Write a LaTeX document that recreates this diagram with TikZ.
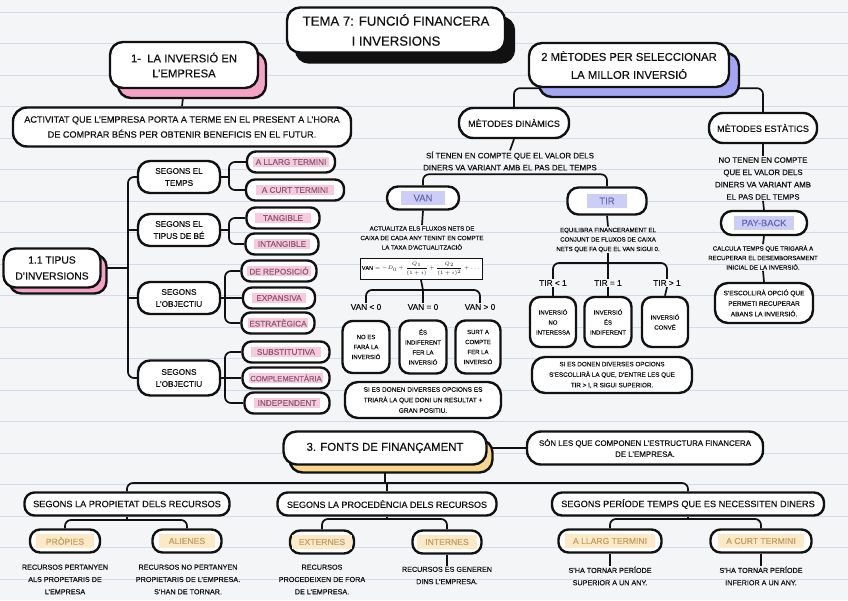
\documentclass[tikz,border=0pt]{standalone}
\usepackage{fontspec}
\setmainfont{Liberation Sans}[FakeBold=0.4]
\usetikzlibrary{shadows}
\definecolor{paper}{HTML}{F4F5F7}
\definecolor{rulec}{HTML}{D3DBEA}
\definecolor{pinkS}{HTML}{F5A3C5}
\definecolor{pinkHL}{HTML}{F8CADD}
\definecolor{pinkT}{HTML}{8E5B75}
\definecolor{blueS}{HTML}{A4A6F4}
\definecolor{blueHL}{HTML}{CDCEF7}
\definecolor{blueT}{HTML}{6569AE}
\definecolor{yelS}{HTML}{FAD68C}
\definecolor{yelHL}{HTML}{FBE9C8}
\definecolor{yelT}{HTML}{C49E66}
\definecolor{ink}{HTML}{111111}
\pgfdeclarelayer{paperlayer}
\pgfdeclarelayer{connlayer}
\pgfsetlayers{paperlayer,connlayer,main}
\newcommand\fsz[2]{\fontsize{#1}{#2}\selectfont}
% colour, vertical pad, horizontal pad, text
\newcommand\hlb[4]{{\setlength{\fboxsep}{#2}\colorbox{#1}{\hspace{#3}#4\hspace{#3}}}}
\begin{document}
\begin{tikzpicture}[x=1pt,y=-1pt,
  box/.style={draw=ink, line width=2.4pt, rounded corners=10pt, fill=white, align=center, inner sep=1pt, text=ink},
  conn/.style={draw=ink, line width=1.7pt, rounded corners=6pt},
  plain/.style={align=center, inner sep=1pt, text=ink},
  shBlack/.style={general shadow={fill=ink, draw=ink, line width=2.4pt, shadow xshift=9pt, shadow yshift=-10pt}},
  shP/.style={general shadow={fill=pinkS, draw=ink, line width=2.4pt, shadow xshift=8pt, shadow yshift=-10pt}},
  shPs/.style={general shadow={fill=pinkS, draw=ink, line width=2.4pt, shadow xshift=6pt, shadow yshift=-6pt}},
  shB/.style={general shadow={fill=blueS, draw=ink, line width=2.4pt, shadow xshift=10pt, shadow yshift=-10pt}},
  shY/.style={general shadow={fill=yelS, draw=ink, line width=2.4pt, shadow xshift=6pt, shadow yshift=-8pt}},
  segbox/.style={box, minimum width=82pt, minimum height=32pt, rounded corners=12pt, font=\fsz{8.2}{12}},
  leafP/.style={box, rounded corners=9pt, minimum height=21pt, text=pinkT, font=\fsz{8.2}{9}},
  leafB/.style={box, rounded corners=11pt, text=blueT},
  leafY/.style={box, rounded corners=10pt, minimum height=23pt, text=yelT, font=\fsz{8.6}{9}},
  small/.style={box, rounded corners=10pt, font=\fsz{6}{10}},
  note/.style={plain, font=\fsz{6.1}{9.5}},
  lab/.style={plain, font=\fsz{8.3}{9}},
  desc/.style={plain, font=\fsz{7.2}{12.3}}
]
\useasboundingbox (0,0) rectangle (848,600);
\begin{pgfonlayer}{paperlayer}
  \fill[paper] (0,0) rectangle (848,600);
  \foreach \i in {0,...,18} \draw[rulec, line width=0.8pt] (0,{12+31.5*\i}) -- (848,{12+31.5*\i});
\end{pgfonlayer}

% ---------- title ----------
\node[box, shBlack, minimum width=218pt, minimum height=45pt, rounded corners=13pt, font=\fsz{13.2}{20}] (title) at (396,30) {TEMA 7: FUNCIÓ FINANCERA\\I INVERSIONS};

% ---------- section 1 ----------
\node[box, shP, minimum width=148pt, minimum height=46pt, rounded corners=13pt, font=\fsz{11.3}{15}] (sec1) at (184,65) {1-\ \ LA INVERSIÓ EN\\L'EMPRESA};
\node[box, minimum width=338pt, minimum height=39pt, rounded corners=14pt, font=\fsz{9.1}{15}] (act) at (182,127) {ACTIVITAT QUE L'EMPRESA PORTA A TERME EN EL PRESENT A L'HORA\\DE COMPRAR BÉNS PER OBTENIR BENEFICIS EN EL FUTUR.};

\node[box, shPs, minimum width=97pt, minimum height=39pt, rounded corners=12pt, font=\fsz{10.3}{16}] (t11) at (52,268) {1.1 TIPUS\\D'INVERSIONS};
\node[segbox] (s1) at (179,177) {SEGONS EL\\TEMPS};
\node[segbox] (s2) at (179,230) {SEGONS EL\\TIPUS DE BÉ};
\node[segbox] (s3) at (179,298) {SEGONS\\L'OBJECTIU};
\node[segbox, minimum height=35pt] (s4) at (179,378) {SEGONS\\L'OBJECTIU};

\node[leafP, minimum width=88pt] (l1) at (291,162) {\hlb{pinkHL}{1.8pt}{1pt}{A LLARG TERMINI}};
\node[leafP, minimum width=98pt] (l2) at (295,190) {\hlb{pinkHL}{1.8pt}{4pt}{A CURT TERMINI}};
\node[leafP, minimum width=73pt] (l3) at (283,218) {\hlb{pinkHL}{1.8pt}{6pt}{TANGIBLE}};
\node[leafP, minimum width=73pt] (l4) at (282,244) {\hlb{pinkHL}{1.8pt}{2pt}{INTANGIBLE}};
\node[leafP, minimum width=75pt] (l5) at (279,271) {\hlb{pinkHL}{1.8pt}{1pt}{DE REPOSICIÓ}};
\node[leafP, minimum width=72pt] (l6) at (279,298) {\hlb{pinkHL}{1.8pt}{3pt}{EXPANSIVA}};
\node[leafP, minimum width=73pt] (l7) at (278,323) {\hlb{pinkHL}{1.8pt}{0pt}{ESTRATÈGICA}};
\node[leafP, minimum width=87pt] (l8) at (286,352) {\hlb{pinkHL}{1.8pt}{4pt}{SUBSTITUTIVA}};
\node[leafP, minimum width=87pt, font=\fsz{7.6}{9}] (l9) at (286,378) {\hlb{pinkHL}{1.8pt}{0pt}{COMPLEMENTÀRIA}};
\node[leafP, minimum width=85pt] (l10) at (287,403) {\hlb{pinkHL}{1.8pt}{2pt}{INDEPENDENT}};

\coordinate (tr) at (128,268);
\coordinate (f1) at (229,177);
\coordinate (f2) at (229,230);
\coordinate (f3) at (225,298);
\coordinate (f4) at (225,378);

% ---------- section 2 ----------
\node[box, shB, minimum width=200pt, minimum height=44pt, rounded corners=13pt, font=\fsz{11.3}{18}] (sec2) at (629,65) {2 MÈTODES PER SELECCIONAR\\LA MILLOR INVERSIÓ};
\node[box, minimum width=110pt, minimum height=30pt, rounded corners=14pt, font=\fsz{9.1}{10}] (din) at (514,123) {MÈTODES DINÀMICS};
\node[box, minimum width=108pt, minimum height=30pt, rounded corners=14pt, font=\fsz{9.1}{10}] (est) at (763,128) {MÈTODES ESTÀTICS};

\node[plain, font=\fsz{7.9}{12}] (sT) at (510,161) {SÍ TENEN EN COMPTE QUE EL VALOR DELS\\DINERS VA VARIANT AMB EL PAS DEL TEMPS};
\node[leafB, minimum width=72pt, minimum height=23pt, font=\fsz{9.5}{10}] (van) at (423,198) {\hlb{blueHL}{3.5pt}{9pt}{VAN}};
\node[leafB, minimum width=79pt, minimum height=27pt, font=\fsz{9.5}{10}] (tir) at (607,201) {\hlb{blueHL}{3.5pt}{9pt}{TIR}};

\node[note] (vanT) at (422,238) {ACTUALITZA ELS FLUXOS NETS DE\\CAIXA DE CADA ANY TENINT EN COMPTE\\LA TAXA D'ACTUALITZACIÓ};
\node[draw=ink, line width=0.9pt, fill=white, minimum width=122pt, minimum height=21pt, inner sep=1pt, text=ink] (form) at (421,269) {\fsz{5.4}{6}$\displaystyle \mathrm{VAN}=-D_0+\frac{Q_1}{(1+i)}+\frac{Q_2}{(1+i)^2}+\dots$};
\coordinate (vb) at (423,290);
\node[lab] (v1) at (366,307) {VAN < 0};
\node[lab] (v2) at (423,307) {VAN = 0};
\node[lab] (v3) at (480,307) {VAN > 0};
\node[small, minimum width=47pt, minimum height=52pt] (vb1) at (366,347) {NO ES\\FARÀ LA\\INVERSIÓ};
\node[small, minimum width=47pt, minimum height=53pt] (vb2) at (423,347) {ÉS\\INDIFERENT\\FER LA\\INVERSIÓ};
\node[small, minimum width=45pt, minimum height=53pt] (vb3) at (478,347) {SURT A\\COMPTE\\FER LA\\INVERSIÓ};
\node[box, minimum width=156pt, minimum height=36pt, rounded corners=13pt, font=\fsz{6.5}{10.5}] (vanS) at (423,400) {SI ES DONEN DIVERSES OPCIONS ES\\TRIARÀ LA QUE DONI UN RESULTAT +\\GRAN POSITIU.};

\node[note] (tirT) at (608,240) {EQUILIBRA FINANCERAMENT EL\\CONJUNT DE FLUXOS DE CAIXA\\NETS QUE FA QUE EL VAN SIGUI 0.};
\coordinate (tb) at (608,263);
\node[lab] (t1) at (553,283) {TIR < 1};
\node[lab] (t2) at (608,283) {TIR = 1};
\node[lab] (t3) at (667,283) {TIR > 1};
\node[small, minimum width=46pt, minimum height=50pt] (tx1) at (553,322) {INVERSIÓ\\NO\\INTERESSA};
\node[small, minimum width=47pt, minimum height=50pt] (tx2) at (608,322) {INVERSIÓ\\ÉS\\INDIFERENT};
\node[small, minimum width=46pt, minimum height=50pt] (tx3) at (665,322) {INVERSIÓ\\CONVÉ};
\node[box, minimum width=160pt, minimum height=36pt, rounded corners=13pt, font=\fsz{6.3}{10.5}] (tirS) at (612,375) {SI ES DONEN DIVERSES OPCIONS\\S'ESCOLLIRÀ LA QUE, D'ENTRE LES QUE\\TIR > I, R SIGUI SUPERIOR.};

\node[plain, font=\fsz{7.8}{12.3}] (estT) at (763,178.5) {NO TENEN EN COMPTE\\QUE EL VALOR DELS\\DINERS VA VARIANT AMB\\EL PAS DEL TEMPS};
\node[leafB, minimum width=86pt, minimum height=24pt, font=\fsz{9.3}{10}] (pay) at (764,223) {\hlb{blueHL}{3.5pt}{4pt}{PAY-BACK}};
\node[note] (payT) at (763,257.5) {CALCULA TEMPS QUE TRIGARÀ A\\RECUPERAR EL DESEMBORSAMENT\\INICIAL DE LA INVERSIÓ.};
\node[box, minimum width=98pt, minimum height=40pt, rounded corners=13pt, font=\fsz{6.5}{10.5}] (payS) at (764,303) {S'ESCOLLIRÀ OPCIÓ QUE\\PERMETI RECUPERAR\\ABANS LA INVERSIÓ.};

% ---------- section 3 ----------
\node[box, shY, minimum width=203pt, minimum height=33pt, rounded corners=13pt, font=\fsz{11.4}{12}] (fonts) at (385,448) {3. FONTS DE FINANÇAMENT};
\node[box, minimum width=236pt, minimum height=33pt, rounded corners=14pt, font=\fsz{7.9}{11}] (son) at (645,448) {SÓN LES QUE COMPONEN L'ESTRUCTURA FINANCERA\\DE L'EMPRESA.};
\coordinate (ft) at (387,483);

\node[box, minimum width=205pt, minimum height=23pt, font=\fsz{9.2}{10}] (b1) at (127,504) {SEGONS LA PROPIETAT DELS RECURSOS};
\node[box, minimum width=219pt, minimum height=23pt, font=\fsz{9}{10}] (b2) at (387,504) {SEGONS LA PROCEDÈNCIA DELS RECURSOS};
\node[box, minimum width=272pt, minimum height=23pt, font=\fsz{9.2}{10}] (b3) at (688,504) {SEGONS PERÍODE TEMPS QUE ES NECESSITEN DINERS};

\node[leafY, minimum width=70pt] (p1) at (65,541) {\hlb{yelHL}{3.5pt}{6pt}{PRÒPIES}};
\node[leafY, minimum width=69pt] (p2) at (187,541) {\hlb{yelHL}{3.5pt}{6pt}{ALIENES}};
\node[leafY, minimum width=64pt] (p3) at (322,542) {\hlb{yelHL}{3.5pt}{3pt}{EXTERNES}};
\node[leafY, minimum width=69pt] (p4) at (447,542) {\hlb{yelHL}{3.5pt}{5pt}{INTERNES}};
\node[leafY, minimum width=103pt] (p5) at (610,541) {\hlb{yelHL}{3.5pt}{4pt}{A LLARG TERMINI}};
\node[leafY, minimum width=101pt] (p6) at (761,541) {\hlb{yelHL}{3.5pt}{5pt}{A CURT TERMINI}};
\coordinate (g1) at (127,520);
\coordinate (g2) at (387,519);
\coordinate (g3) at (688,519);

\node[desc] (d1) at (65,579.5) {RECURSOS PERTANYEN\\ALS PROPETARIS DE\\L'EMPRESA};
\node[desc] (d2) at (188,579.5) {RECURSOS NO PERTANYEN\\PROPIETARIS DE L'EMPRESA.\\S'HAN DE TORNAR.};
\node[desc] (d3) at (322,579.5) {RECURSOS\\PROCEDEIXEN DE FORA\\DE L'EMPRESA.};
\node[desc] (d4) at (447,575.5) {RECURSOS ES GENEREN\\DINS L'EMPRESA.};
\node[desc] (d5) at (610,576) {S'HA TORNAR PERÍODE\\SUPERIOR A UN ANY.};
\node[desc] (d6) at (761,576) {S'HA TORNAR PERÍODE\\INFERIOR A UN ANY.};

% ---------- connectors ----------
\begin{pgfonlayer}{connlayer}
  \draw[conn] (sec1.south) -- (act.north);
  \draw[conn] (t11.east) -- (tr);
  \draw[conn] (s1.west) -| (tr) |- (s4.west);
  \draw[conn] (s2.west -| tr) -- (s2.west);
  \draw[conn] (s3.west -| tr) -- (s3.west);
  \draw[conn] (s1.east) -- (f1);
  \draw[conn] (l1.west) -| (f1) |- (l2.west);
  \draw[conn] (s2.east) -- (f2);
  \draw[conn] (l3.west) -| (f2) |- (l4.west);
  \draw[conn] (s3.east) -- (l6.west);
  \draw[conn] (l5.west) -| (f3) |- (l7.west);
  \draw[conn] (s4.east) -- (l9.west);
  \draw[conn] (l8.west) -| (f4) |- (l10.west);

  \draw[conn] (din.north) |- (sec2.south) -| (est.north);
  \draw[conn] (din.south) -- (sT.north);
  \draw[conn] (van.north) -- ++(0,-11) -| (tir.north);
  \draw[conn] (van.south) -- (vanT.north);
  \draw[conn] (form.south) -- (vb);
  \draw[conn] (v1.north) |- (vb) -| (v3.north);
  \draw[conn] (vb) -- (v2.north);
  \draw[conn] (tir.south) -- (tirT.north);
  \draw[conn] (tirT.south) -- (tb);
  \draw[conn] (t1.north) |- (tb) -| (t3.north);
  \draw[conn] (tb) -- (t2.north);
  \draw[conn] (t1.south) -- (tx1.north);
  \draw[conn] (t2.south) -- (tx2.north);
  \draw[conn] (t3.south) -- (tx3.north);
  \draw[conn] (est.south) -- (estT.north);
  \draw[conn] (estT.south) -- (pay.north);
  \draw[conn] (pay.south) -- (payT.north);
  \draw[conn] (payT.south) -- (payS.north);

  \draw[conn] (fonts.east) -- (son.west);
  \draw[conn] (fonts.south) -- (fonts.south |- ft);
  \draw[conn] (b1.north) |- (ft) -| (b3.north);
  \draw[conn] (ft) -- (b2.north);
  \draw[conn] (b1.south) -- (g1);
  \draw[conn] (p1.north) |- (g1) -| (p2.north);
  \draw[conn] (b2.south) -- (g2);
  \draw[conn] (p3.north) |- (g2) -| (p4.north);
  \draw[conn] (b3.south) -- (g3);
  \draw[conn] (p5.north) |- (g3) -| (p6.north);
  \draw[conn] (p4.south) -- (d4.north);
  \draw[conn] (p5.south) -- (d5.north);
  \draw[conn] (p6.south) -- (d6.north);
\end{pgfonlayer}
\end{tikzpicture}
\end{document}
